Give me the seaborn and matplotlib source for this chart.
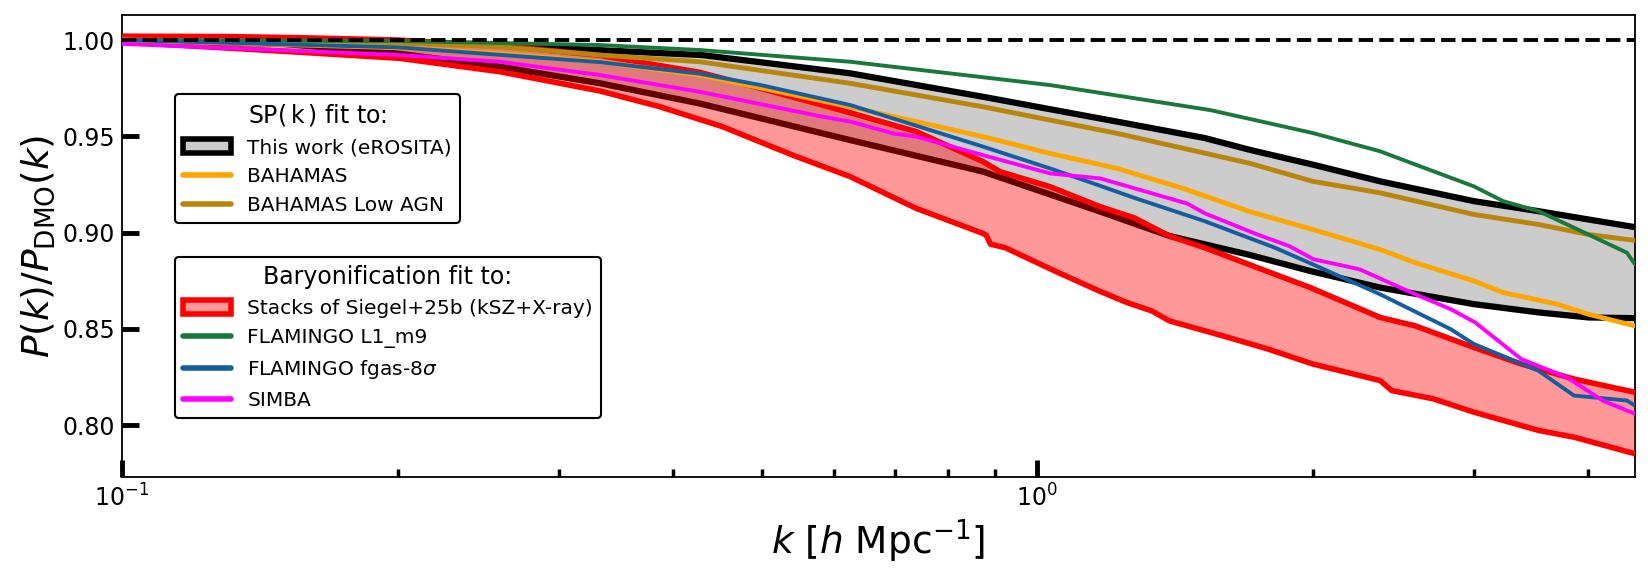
import numpy as np
import matplotlib
matplotlib.use("Agg")
import matplotlib.pyplot as plt
from matplotlib.lines import Line2D
from matplotlib.patches import Patch
import seaborn as sns

# SP(k) fit to this work (eROSITA): upper and lower edge of the band
k_sp_hi = [0.1, 0.15, 0.2, 0.26, 0.33, 0.43, 0.5, 0.625, 0.873, 1.0, 1.223,
           1.524, 1.709, 2.0, 2.37, 3.0, 3.53, 4.0, 4.5]
sp_hi = [1.000, 0.9998, 0.9990, 0.9975, 0.9948, 0.9922, 0.9884, 0.9827, 0.9705,
         0.9653, 0.9576, 0.9491, 0.9429, 0.9353, 0.9266, 0.9163, 0.9111, 0.9068, 0.9028]
k_sp_lo = [0.1, 0.15, 0.2, 0.26, 0.333, 0.428, 0.625, 0.873, 1.168, 1.395, 1.709,
           1.988, 2.37, 3.0, 3.53, 4.0, 4.5]
sp_lo = [1.000, 0.998, 0.993, 0.986, 0.9775, 0.967, 0.948, 0.9316, 0.9111, 0.8982,
         0.8883, 0.880, 0.8714, 0.8628, 0.8585, 0.8559, 0.8555]

# SP(k) fits to BAHAMAS
k_bah = [0.1, 0.157, 0.201, 0.259, 0.333, 0.428, 0.625, 0.738, 0.873, 1.033, 1.223,
         1.444, 1.709, 2.0, 2.37, 2.59, 3.0, 3.23, 3.70, 4.0, 4.5]
bahamas = [1.0, 0.9974, 0.996, 0.993, 0.9887, 0.9818, 0.9653, 0.9576, 0.9498, 0.9411,
           0.9333, 0.9229, 0.9108, 0.9016, 0.8912, 0.8843, 0.8749, 0.8688, 0.8628,
           0.8576, 0.8515]
k_bah_low = [0.1, 0.2, 0.259, 0.333, 0.428, 0.625, 0.873, 1.223, 1.709, 2.0, 2.37,
             3.0, 3.53, 4.0, 4.5]
bahamas_low = [1.0, 0.9985, 0.9965, 0.9922, 0.9887, 0.9775, 0.9653, 0.9515, 0.9359,
               0.9266, 0.9206, 0.9094, 0.9042, 0.8990, 0.8959]

# Baryonification fit to Siegel+25b stacks: band edges
k_bar_hi = [0.1, 0.13, 0.157, 0.2, 0.26, 0.333, 0.428, 0.487, 0.625, 0.738, 0.873,
            0.911, 1.033, 1.172, 1.277, 1.395, 1.524, 1.819, 1.988, 2.37, 2.59, 3.0,
            3.38, 3.86, 4.5]
bar_hi = [1.002, 1.0018, 1.0012, 1.0, 0.997, 0.9920, 0.9832, 0.9762, 0.9622, 0.9524,
          0.9368, 0.9316, 0.9238, 0.9134, 0.9076, 0.8982, 0.8921, 0.8783, 0.8714,
          0.8559, 0.8515, 0.8403, 0.8317, 0.8239, 0.8170]
k_bar_lo = [0.1, 0.157, 0.201, 0.259, 0.333, 0.386, 0.453, 0.542, 0.625, 0.738, 0.873,
            0.88, 0.889, 0.923, 1.05, 1.168, 1.254, 1.334, 1.395, 1.593, 1.787, 2.0,
            2.37, 2.44, 2.71, 3.0, 3.53, 3.86, 4.5]
bar_lo = [0.999, 0.9936, 0.9905, 0.9835, 0.9735, 0.9655, 0.9550, 0.9400, 0.9290,
          0.9125, 0.8995, 0.8985, 0.8940, 0.8921, 0.8796, 0.8697, 0.8636, 0.8593,
          0.8541, 0.8464, 0.8395, 0.8317, 0.8231, 0.8179, 0.8136, 0.8067, 0.7972,
          0.7937, 0.7851]

# Baryonification fits to simulations
k_fl = [0.1, 0.2, 0.333, 0.428, 0.625, 1.033, 1.546, 2.0, 2.37, 2.59, 3.0, 3.23,
        3.53, 3.86, 4.41, 4.5]
flamingo = [1.0, 0.9995, 0.9974, 0.9948, 0.9887, 0.9766, 0.9636, 0.9517, 0.9422,
            0.9353, 0.9240, 0.9163, 0.9111, 0.9025, 0.8895, 0.8835]
k_fg = [0.1, 0.2, 0.333, 0.428, 0.5, 0.625, 0.873, 1.033, 1.168, 1.277, 1.524, 1.819,
        2.0, 2.37, 2.83, 3.0, 3.53, 3.86, 4.22, 4.41, 4.5]
fgas = [1.0, 0.9962, 0.9885, 0.9825, 0.9765, 0.9662, 0.9446, 0.9333, 0.9245, 0.918,
        0.9059, 0.8921, 0.8835, 0.8679, 0.8498, 0.8421, 0.8282, 0.8153, 0.8136,
        0.8127, 0.8101]
k_sim = [0.1, 0.157, 0.201, 0.259, 0.333, 0.428, 0.581, 0.625, 0.696, 0.738, 0.859,
         1.033, 1.172, 1.46, 1.524, 1.74, 1.885, 2.005, 2.25, 2.59, 2.83, 3.01, 3.38,
         3.79, 4.15, 4.5]
simba = [0.998, 0.9943, 0.9922, 0.9887, 0.9818, 0.9731, 0.9603, 0.9576, 0.9515,
         0.9498, 0.9411, 0.9307, 0.9281, 0.9150, 0.9100, 0.8990, 0.8930, 0.8861,
         0.8809, 0.8679, 0.8602, 0.8533, 0.8343, 0.8248, 0.8127, 0.8058]

GREY = "#cccccc"
GREEN = "#18793a"
BLUE = "#145da0"

sns.set_style("ticks")
plt.rcParams["font.family"] = ["DejaVu Sans"]
plt.rcParams["mathtext.fontset"] = "dejavusans"
for key in ["text.color", "axes.labelcolor", "xtick.color", "ytick.color", "axes.edgecolor"]:
    plt.rcParams[key] = "black"

fig = plt.figure(figsize=(16.51, 5.77), dpi=100)
ax = fig.add_axes([0.0739, 0.1733, 0.9164, 0.8007])
ax.set_xscale("log")

# SP(k) band
ax.fill(np.concatenate([k_sp_hi, k_sp_lo[::-1]]), np.concatenate([sp_hi, sp_lo[::-1]]),
        color=GREY, lw=0, zorder=1)
sns.lineplot(x=k_sp_hi, y=sp_hi, ax=ax, color="black", lw=4.5, zorder=2, sort=False)
sns.lineplot(x=k_sp_lo, y=sp_lo, ax=ax, color="black", lw=4.5, zorder=2, sort=False)

# baryonification band, translucent on top of the grey one
ax.fill(np.concatenate([k_bar_hi, k_bar_lo[::-1]]), np.concatenate([bar_hi, bar_lo[::-1]]),
        color="red", alpha=0.4, lw=0, zorder=3)
sns.lineplot(x=k_bar_hi, y=bar_hi, ax=ax, color="red", lw=4, zorder=4, sort=False)
sns.lineplot(x=k_bar_lo, y=bar_lo, ax=ax, color="red", lw=4, zorder=4, sort=False)

sns.lineplot(x=k_bah_low, y=bahamas_low, ax=ax, color="darkgoldenrod", lw=3.5, zorder=5, sort=False)
sns.lineplot(x=k_bah, y=bahamas, ax=ax, color="orange", lw=3.5, zorder=5, sort=False)
sns.lineplot(x=k_fl, y=flamingo, ax=ax, color=GREEN, lw=2.8, zorder=6, sort=False)
sns.lineplot(x=k_fg, y=fgas, ax=ax, color=BLUE, lw=2.8, zorder=6, sort=False)
sns.lineplot(x=k_sim, y=simba, ax=ax, color="magenta", lw=2.8, zorder=6, sort=False)

ax.axhline(1.0, color="black", ls="--", lw=2.8, zorder=8)

ax.set_xlim(0.1, 4.5)
ax.set_ylim(0.773, 1.013)
ax.set_yticks([0.80, 0.85, 0.90, 0.95, 1.00])
ax.set_yticklabels(["0.80", "0.85", "0.90", "0.95", "1.00"])
ax.tick_params(axis="both", which="major", direction="in", length=12, width=3.5,
               labelsize=17, pad=5, color="black", labelcolor="black")
ax.tick_params(axis="x", which="minor", direction="in", length=6, width=2.5, color="black")
ax.tick_params(axis="y", which="minor", left=False)
for sp in ax.spines.values():
    sp.set_linewidth(1.3)
    sp.set_color("black")

ax.set_xlabel(r"$k$ [$h$ Mpc$^{-1}$]", fontsize=27)
ax.set_ylabel(r"$P(k)/P_{\rm DMO}(k)$", fontsize=27)

handles1 = [Patch(facecolor=GREY, edgecolor="black", linewidth=4),
            Line2D([], [], color="orange", lw=4),
            Line2D([], [], color="darkgoldenrod", lw=4)]
labels1 = ["This work (eROSITA)", "BAHAMAS", "BAHAMAS Low AGN"]
leg1 = ax.legend(handles1, labels1, title=r"SP$(\,\mathrm{k}\,)$ fit to:",
                 loc="upper left", bbox_to_anchor=(0.035, 0.829), borderaxespad=0,
                 fontsize=14.5, title_fontsize=17, handlelength=2.4,
                 framealpha=1, edgecolor="black", fancybox=True)
leg1.get_frame().set_linewidth(1.5)
leg1.set_zorder(10)
ax.add_artist(leg1)

handles2 = [Patch(facecolor="#ff9999", edgecolor="red", linewidth=4),
            Line2D([], [], color=GREEN, lw=4),
            Line2D([], [], color=BLUE, lw=4),
            Line2D([], [], color="magenta", lw=4)]
labels2 = ["Stacks of Siegel+25b (kSZ+X-ray)", "FLAMINGO L1_m9",
           r"FLAMINGO fgas-8$\sigma$", "SIMBA"]
leg2 = ax.legend(handles2, labels2, title="Baryonification fit to:",
                 loc="upper left", bbox_to_anchor=(0.035, 0.476), borderaxespad=0,
                 fontsize=14.5, title_fontsize=17, handlelength=2.4,
                 framealpha=1, edgecolor="black", fancybox=True)
leg2.get_frame().set_linewidth(1.5)
leg2.set_zorder(10)

fig.savefig("out.png", dpi=100)
